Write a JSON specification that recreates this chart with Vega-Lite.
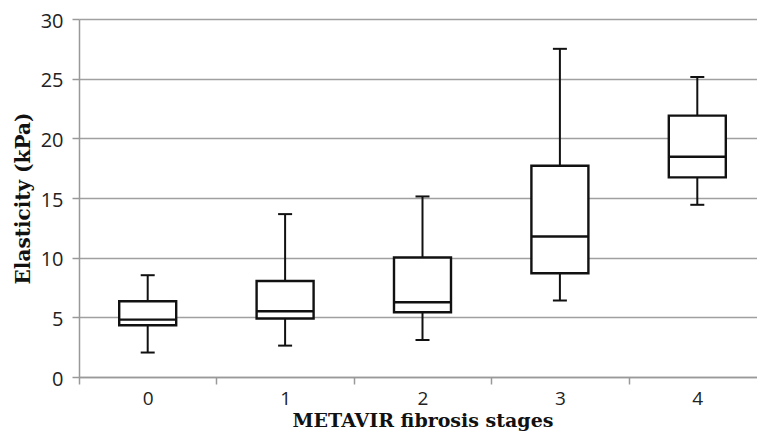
{
  "$schema": "https://vega.github.io/schema/vega-lite/v6.json",
  "autosize": "none",
  "width": 678,
  "height": 358,
  "padding": {"left": 79, "top": 19, "right": 0, "bottom": 58},
  "background": "white",
  "config": {
    "view": {"stroke": null},
    "axis": {"labelFont": "Open Sans", "titleFont": "DejaVu Serif"}
  },
  "data": {
    "values": [
      {"stage": "0", "min": 2.05, "q1": 4.34, "median": 4.81, "q3": 6.35, "max": 8.53},
      {"stage": "1", "min": 2.63, "q1": 4.9, "median": 5.51, "q3": 8.05, "max": 13.65},
      {"stage": "2", "min": 3.1, "q1": 5.43, "median": 6.27, "q3": 10.02, "max": 15.13},
      {"stage": "3", "min": 6.41, "q1": 8.7, "median": 11.78, "q3": 17.7, "max": 27.5},
      {"stage": "4", "min": 14.43, "q1": 16.73, "median": 18.46, "q3": 21.9, "max": 25.14}
    ]
  },
  "encoding": {
    "x": {
      "field": "stage",
      "type": "ordinal",
      "scale": {"range": [0, 687], "paddingInner": 0, "paddingOuter": 0},
      "axis": {
        "title": "METAVIR fibrosis stages",
        "titleFontSize": 19,
        "titleFontWeight": "bold",
        "titleColor": "#111",
        "titlePadding": 3,
        "labelAngle": 0,
        "labelFontSize": 19,
        "labelColor": "#222",
        "labelPadding": 5,
        "tickBand": "extent",
        "tickSize": 7,
        "tickColor": "#999",
        "tickWidth": 1.5,
        "domainColor": "#999",
        "domainWidth": 1.5,
        "grid": false
      }
    }
  },
  "layer": [
    {
      "mark": {"type": "rule", "color": "#111", "strokeWidth": 2},
      "encoding": {
        "y": {
          "field": "min",
          "type": "quantitative",
          "scale": {"domain": [0, 30], "nice": false},
          "axis": {
            "title": "Elasticity (kPa)",
            "titleFontSize": 20,
            "titleFontWeight": "bold",
            "titleColor": "#111",
            "titlePadding": 7,
            "values": [0, 5, 10, 15, 20, 25, 30],
            "labelFontSize": 20,
            "labelColor": "#222",
            "labelPadding": 9,
            "labelOffset": 2,
            "tickSize": 7,
            "tickColor": "#999",
            "tickWidth": 1.5,
            "domainColor": "#999",
            "domainWidth": 1.5,
            "grid": true,
            "gridColor": "#a0a0a0",
            "gridWidth": 1.5
          }
        },
        "y2": {"field": "max"}
      }
    },
    {
      "mark": {"type": "tick", "color": "#111", "opacity": 1, "size": 14, "thickness": 2},
      "encoding": {"y": {"field": "min", "type": "quantitative"}}
    },
    {
      "mark": {"type": "tick", "color": "#111", "opacity": 1, "size": 14, "thickness": 2},
      "encoding": {"y": {"field": "max", "type": "quantitative"}}
    },
    {
      "mark": {"type": "bar", "fill": "white", "stroke": "#111", "strokeWidth": 2.4, "size": 57},
      "encoding": {
        "y": {"field": "q1", "type": "quantitative"},
        "y2": {"field": "q3"}
      }
    },
    {
      "mark": {"type": "tick", "color": "#111", "opacity": 1, "size": 57, "thickness": 2.4},
      "encoding": {"y": {"field": "median", "type": "quantitative"}}
    }
  ]
}
